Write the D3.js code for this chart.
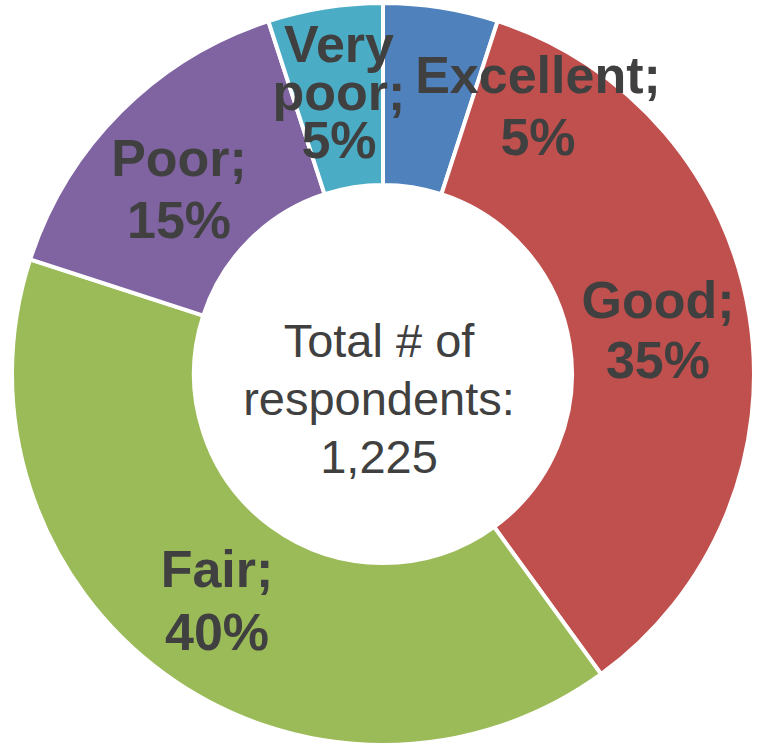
<!DOCTYPE html>
<html>
<head>
<meta charset="utf-8">
<script src="https://cdn.jsdelivr.net/npm/d3@7"></script>
<style>
  html, body { margin: 0; padding: 0; background: #fff; }
  svg { display: block; font-family: "Liberation Sans", Arial, sans-serif; }
</style>
</head>
<body>
<script>
// Survey rating shares (percent), clockwise from 12 o'clock
const categories = ["Excellent", "Good", "Fair", "Poor", "Very poor"];
const shares = [5, 35, 40, 15, 5];
const colors = ["#4F81BD", "#C0504D", "#9BBB59", "#8064A2", "#4BACC6"];
const labelLines = [["Excellent;", "5%"], ["Good;", "35%"], ["Fair;", "40%"], ["Poor;", "15%"], ["Very", "poor;", "5%"]];
const centerLines = ["Total # of", "respondents:", "1,225"];

const W = 759, H = 749;
const cx = 383, cy = 374, outerR = 371, innerR = 189;

const svg = d3.select("body").append("svg").attr("width", W).attr("height", H);
const g = svg.append("g").attr("transform", `translate(${cx},${cy})`);

const data = categories.map((c, i) => ({ name: c, value: shares[i], color: colors[i], lines: labelLines[i] }));
const pie = d3.pie().value(d => d.value).sort(null);
const arc = d3.arc().innerRadius(innerR).outerRadius(outerR);
const arcs = pie(data);

g.selectAll("path.slice").data(arcs).join("path")
  .attr("class", "slice")
  .attr("d", arc)
  .attr("fill", d => d.data.color)
  .attr("stroke", "#fff")
  .attr("stroke-width", 4)
  .attr("stroke-linejoin", "miter");

// Data labels: position offsets (relative to centre) and line spacing per slice
const labelPos = {
  "Excellent": { x: 155, y: -281, lh: 62 },
  "Good": { x: 275, y: -56, lh: 60 },
  "Fair": { x: -166, y: 213, lh: 63 },
  "Poor": { x: -204, y: -198, lh: 62 },
  "Very poor": { x: -44, y: -312, lh: 48 }
};

const labels = g.selectAll("text.lbl").data(arcs).join("text")
  .attr("class", "lbl")
  .attr("text-anchor", "middle")
  .attr("font-size", 52)
  .attr("font-weight", "bold")
  .attr("fill", "#404040");

labels.each(function(d) {
  const p = labelPos[d.data.name];
  d3.select(this).selectAll("tspan").data(d.data.lines).join("tspan")
    .attr("x", p.x)
    .attr("y", (t, i) => p.y + i * p.lh)
    .text(t => t);
});

// Centre caption
g.append("text")
  .attr("text-anchor", "middle")
  .attr("font-size", 47)
  .attr("fill", "#404040")
  .selectAll("tspan").data(centerLines).join("tspan")
  .attr("x", -4)
  .attr("y", (t, i) => -17 + i * 58)
  .text(t => t);
</script>
</body>
</html>
